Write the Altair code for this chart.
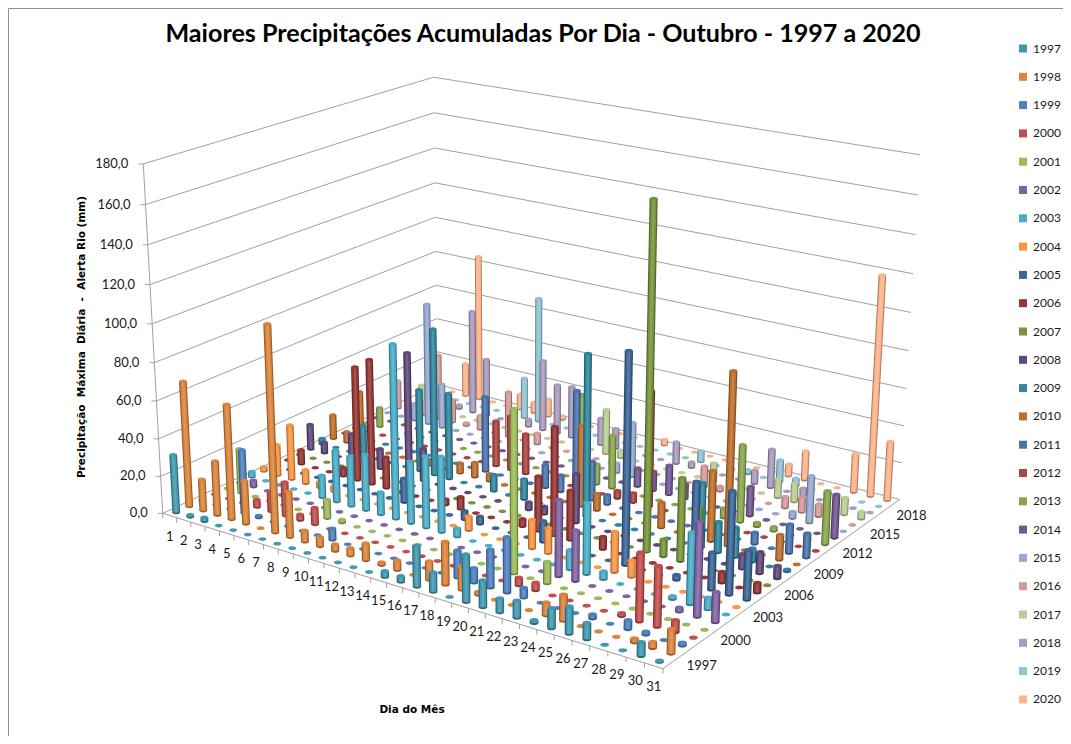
import numpy as np
import pandas as pd
import altair as alt

days = list(range(1, 32))
years = list(range(1997, 2021))
title_text = "Maiores Precipitações Acumuladas Por Dia - Outubro - 1997 a 2020"
y_title = "Precipitação\u00a0 Máxima\u00a0 Diária\u00a0 -\u00a0 Alerta Rio (mm)"
x_title = "Dia do Mês"
grid_values = [0, 20, 40, 60, 80, 100, 120, 140, 160, 180]
year_ticks = [1997, 2000, 2003, 2006, 2009, 2012, 2015, 2018]

colors = ["#4198AF", "#DB843D", "#5081BE", "#C0504D", "#9BBB59", "#8064A2", "#4BACC6", "#F79646",
          "#3D6596", "#953735", "#77933C", "#604A7B", "#31859C", "#BD6F2E", "#4A74AD", "#AA4643",
          "#89A54E", "#71588F", "#95A9D1", "#D49B9A", "#B9CD96", "#A99BBD", "#92C3D5", "#FBB58B"]

y1997 = [31, 1, 2, 0, 0, 0, 0, 0, 0, 0, 0, 0, 0, 0, 3, 3, 21, 10, 0, 24, 13.5, 7, 8.5, 1.5, 10, 13.5, 8, 0, 0, 6.7, 0.5]
y1998 = [67, 17, 29, 61, 23, 0, 108, 24, 6, 5, 3.5, 4, 9, 1.5, 5, 0, 9.5, 22, 12, 1.5, 0, 0, 0, 6.5, 13, 0, 0, 0, 2, 3, 12]
y1999 = [0, 0, 0, 34, 1, 0, 0, 0, 0, 6, 0, 0, 0, 0, 0, 0, 0, 14, 7.5, 19.5, 28, 5, 0, 0, 0, 2, 0, 4.5, 1.5, 0, 1.5]
y2000 = [0, 0, 0, 4, 10, 18, 3, 9, 0, 0, 0, 0, 0, 0, 0, 0, 0, 0, 0, 0, 4, 4, 0, 0, 0, 0, 1.5, 34, 30, 6, 0]
y2001 = [0, 24, 0, 0, 0, 0, 0, 10, 1.5, 0, 0, 0, 0, 0, 0, 0, 0, 0, 0, 83, 0, 11, 0, 0, 0, 0, 0, 0, 0, 0, 0]
y2002 = [0, 3.5, 0, 0, 0, 0, 0, 0, 0, 0, 0, 0, 0, 0, 0, 0, 0, 0, 0, 0, 0, 39, 26, 0, 0, 0, 0, 0, 2, 47, 15]
y2003 = [3, 0, 0, 0, 0, 12, 28, 27, 30, 12, 92, 33, 38, 40, 4.5, 0, 0, 0, 0, 0, 0, 10, 36.5, 4, 0, 0, 0, 1.5, 36, 6, 0]
y2004 = [2.5, 17, 30, 7.5, 3, 3, 0, 0, 0, 0, 0, 0, 0, 0, 7.5, 0, 0, 0, 15, 13, 0, 0, 0, 20.7, 8.6, 0, 0, 0, 0, 0, 0]
y2005 = [0, 0, 0, 0, 0, 0, 0, 0, 0, 13, 0, 0, 0, 4.5, 4, 0, 0, 0, 11, 0, 0, 0, 0, 108, 0, 0, 2.5, 52, 19, 52, 25]
y2006 = [0, 8, 0, 0, 4.5, 62, 68, 17, 0, 0, 0, 3, 6.5, 0, 0, 0, 4, 29, 57, 26, 0, 6.5, 0, 0, 0, 0, 0, 0, 5.5, 0, 5]
y2007 = [0, 0, 0, 0, 0, 0, 0, 0, 0, 0, 0, 0, 0, 0, 0, 0, 0, 0, 0, 0, 0, 0, 0, 176, 9, 43, 30, 0, 0, 0, 0]
y2008 = [14, 6, 0, 15, 0, 11, 0, 68, 17.5, 0, 0, 0, 0, 0, 0, 4, 4, 0, 26, 0, 0, 0, 0, 0, 0, 0, 0, 0, 7.5, 11, 6.5]
y2009 = [3, 0, 0, 17, 0, 0, 0, 45, 80, 47, 0, 0, 9, 0, 11, 0, 0, 0, 86, 0, 0, 0, 0, 0, 0, 34, 16, 15.5, 7, 0, 1]
y2010 = [13.5, 6, 31, 0, 0, 0, 0, 3, 0, 5.5, 8, 4, 0, 0, 0, 0, 0, 43, 9, 0, 0, 0, 13.5, 0, 0, 37, 90, 0, 0, 13, 0]
y2011 = [0, 0, 0, 0, 0, 0, 0, 0, 0, 0, 41.5, 0, 0, 0, 12.5, 9, 57, 21, 5, 0, 0, 0, 0, 0, 0, 0, 0, 6, 0, 15, 12.7]
y2012 = [0, 0, 0, 0, 0, 0, 0, 0, 0, 0, 25, 30, 22, 0, 0, 0, 0, 0, 4, 5, 62, 0, 0, 0, 0, 0, 0, 0, 0, 0, 0]
y2013 = [0, 11, 0, 0, 0, 0, 0, 0, 0, 0, 0, 0, 0, 0, 0, 47, 11, 29, 0, 0, 0, 0, 0, 0, 5, 41, 2, 2, 0, 0, 28]
y2014 = [0, 0, 0, 0, 0, 0, 0, 0, 0, 0, 0, 0, 0, 0, 0, 0, 0, 0, 10, 10.5, 16, 8, 0, 0, 0, 15.7, 0, 0, 0, 0, 23]
y2015 = [0, 0, 9.5, 69, 25, 0, 0, 0, 0, 0, 0, 0, 0, 0, 0, 0, 5, 30, 0, 0, 0, 0, 0, 0, 0, 0, 0, 3.5, 25, 0, 0]
y2016 = [16, 0, 8, 37, 13, 1.5, 8, 0, 25.6, 0, 6, 0, 0, 0, 0, 0, 0, 0, 0, 0, 0, 11.5, 2.5, 0, 0, 0, 6, 8, 6.5, 0, 0]
y2017 = [0, 12.6, 0, 0, 0, 0, 0, 0, 0, 0, 0, 0, 0, 0, 25, 4, 0, 0, 0, 0, 0, 10, 0, 0, 0, 10, 10, 0, 0, 9, 4]
y2018 = [0, 0, 0, 2, 59, 33, 0, 0, 4, 40, 28, 29, 0, 15, 11, 0, 0, 0, 12, 3, 0, 0, 0, 7, 21, 0, 4, 0, 0, 0, 0]
y2019 = [0, 0, 0, 0, 0, 0, 0, 23, 71, 0, 0, 0, 0, 0, 0, 0, 0, 0, 0, 6, 0, 0, 2, 0, 12, 4, 0, 0, 0, 0, 0]
y2020 = [0, 0, 19, 84, 0, 0, 8.7, 6, 10, 2, 0, 0, 0, 0, 0, 0, 3, 0, 0, 0, 0, 0, 0, 0, 6.5, 16, 0, 0, 21, 118, 32]

series = [y1997, y1998, y1999, y2000, y2001, y2002, y2003, y2004, y2005, y2006, y2007, y2008,
          y2009, y2010, y2011, y2012, y2013, y2014, y2015, y2016, y2017, y2018, y2019, y2020]

# camera of the 3-D box: where the box corners fall on the page
box_cube = [(0, 0, 0), (1, 0, 0), (1, 1, 0), (0, 1, 0), (0, 0, 1), (0, 1, 1), (1, 1, 1)]
box_page = [(163, 513), (663, 669), (900, 499), (437, 385), (143, 164), (434, 77), (920, 155)]
rows = []
for (a, b, c), (px, py) in zip(box_cube, box_page):
    rows.append([a, b, c, 1, 0, 0, 0, 0, -px * a, -px * b, -px * c, -px])
    rows.append([0, 0, 0, 0, a, b, c, 1, -py * a, -py * b, -py * c, -py])
P = np.linalg.svd(np.array(rows, float))[2][-1].reshape(3, 4)
P = P / P[2, 3]


def project(u, v, z):
    q = P @ np.array([u, v, z, 1.0])
    return q[0] / q[2], q[1] / q[2], q[2]


def mix(hexa, other, t):
    c = [int(hexa[i:i + 2], 16) for i in (1, 3, 5)]
    return "#" + "".join(f"{round(x + (other - x) * t):02x}" for x in c)


W, H = 1055, 728
xs = alt.Scale(domain=[8, 8 + W], nice=False, zero=False)
ys = alt.Scale(domain=[8 + H, 8], nice=False, zero=False)
X = lambda f="x": alt.X(f"{f}:Q", scale=xs, axis=None)
Y = lambda f="y": alt.Y(f"{f}:Q", scale=ys, axis=None)

# ---------------- bars
recs = []
for yi, (yr, vals) in enumerate(zip(years, series)):
    v = (yi + 0.5) / 24
    for d, val in zip(days, vals):
        u = (d - 0.5) / 31
        bx, by, bw = project(u, v, 0)
        tx, ty, _ = project(u, v, val / 180)
        w = 7.8 / bw
        recs.append(dict(year=str(yr), day=d, value=val, bx=bx, by=by, tx=tx, ty=ty,
                         w=w, w2=w * 0.72, w3=w * 0.3, s=w * w))
df = pd.DataFrame(recs)

ELL = "M-1,0A1,0.47 0 1,0 1,0A1,0.47 0 1,0 -1,0Z"
legend = alt.Legend(title=None, orient="none", legendX=1021 - 8 - 4, legendY=42.5 - 8, symbolType="square",
                    symbolSize=64, symbolStrokeWidth=0, symbolOpacity=1, labelFont="Lato", labelFontSize=12,
                    labelColor="#1a1a1a", rowPadding=16.3, labelOffset=4, columns=1, values=[str(y) for y in years])
color = alt.Color("year:N", scale=alt.Scale(domain=[str(y) for y in years], range=colors), legend=legend)

layers = []

# ---------------- walls and grid
grid = []
for g in grid_values:
    z = g / 180
    a, b, c = project(0, 0, z), project(0, 1, z), project(1, 1, z)
    grid.append(dict(x=a[0], y=a[1], x2=b[0], y2=b[1]))
    grid.append(dict(x=b[0], y=b[1], x2=c[0], y2=c[1]))
for p, q in [(project(0, 0, 0), project(1, 0, 0)), (project(1, 0, 0), project(1, 1, 0)), (project(0, 0, 0), project(0, 0, 1))]:
    grid.append(dict(x=p[0], y=p[1], x2=q[0], y2=q[1]))
for k in range(32):
    p = project(k / 31, 0, 0)
    grid.append(dict(x=p[0], y=p[1], x2=p[0], y2=p[1] + 5))
for g in grid_values:
    p = project(0, 0, g / 180)
    grid.append(dict(x=p[0] - 5, y=p[1], x2=p[0], y2=p[1]))
layers.append(alt.Chart(pd.DataFrame(grid)).mark_rule(color="#A0A0A0", strokeWidth=1).encode(
    x=X(), y=Y(), x2="x2:Q", y2="y2:Q"))

# ---------------- cylinders, back row first
for yi in range(23, -1, -1):
    yr = str(years[yi])
    c = colors[yi]
    sub = df[df.year == yr]
    tall = sub[sub.value > 0]
    if len(tall):
        layers.append(alt.Chart(tall).mark_point(shape=ELL, filled=True, opacity=1, color=mix(c, 0, 0.3)).encode(
            x=X("bx"), y=Y("by"), size=alt.Size("s:Q", scale=None)))
        for wf, col in [("w", mix(c, 0, 0.3)), ("w2", c), ("w3", mix(c, 255, 0.14))]:
            layers.append(alt.Chart(tall).mark_rule(color=col).encode(
                x=X("bx"), y=Y("by"), x2="tx:Q", y2="ty:Q", strokeWidth=alt.StrokeWidth(f"{wf}:Q", scale=None)))
    layers.append(alt.Chart(sub).mark_point(shape=ELL, filled=True, opacity=1).encode(
        x=X("tx"), y=Y("ty"), size=alt.Size("s:Q", scale=None), color=color))

# ---------------- axis labels
val_lab = [dict(x=project(0, 0, g / 180)[0], y=project(0, 0, g / 180)[1], t=f"{g},0") for g in grid_values]
day_lab = [dict(x=project((d - .5) / 31, 0, 0)[0], y=project((d - .5) / 31, 0, 0)[1], t=str(d)) for d in days]
yr_lab = [dict(x=project(1, (y - 1997 + .5) / 24, 0)[0], y=project(1, (y - 1997 + .5) / 24, 0)[1], t=str(y)) for y in year_ticks]
txt = dict(font="Lato", fontSize=13, color="#1a1a1a")
layers.append(alt.Chart(pd.DataFrame(val_lab)).mark_text(align="right", baseline="middle", dx=-15, **txt).encode(x=X(), y=Y(), text="t:N"))
layers.append(alt.Chart(pd.DataFrame(day_lab)).mark_text(align="center", baseline="middle", dy=21, **txt).encode(x=X(), y=Y(), text="t:N"))
layers.append(alt.Chart(pd.DataFrame(yr_lab)).mark_text(align="center", baseline="middle", dx=33, dy=1, **txt).encode(x=X(), y=Y(), text="t:N"))

layers.append(alt.Chart(pd.DataFrame([dict(x=543, y=34, t=title_text)])).mark_text(
    align="center", baseline="middle", font="Lato", fontWeight="bold", fontSize=25.1, color="#000000").encode(
    x=X(), y=Y(), text="t:N"))
small = pd.DataFrame([
    dict(x=412, y=710, t=x_title, angle=0),
    dict(x=82, y=337, t=y_title, angle=270),
])
layers.append(alt.Chart(small).mark_text(align="center", baseline="middle", font="DejaVu Sans", fontWeight="bold", fontSize=10.5, color="#000000").encode(
    x=X(), y=Y(), text="t:N", angle=alt.Angle("angle:Q", scale=None)))

# ---------------- picture frame
frame = pd.DataFrame([dict(x=8.5, y=8.5, x2=8.5, y2=736), dict(x=8.5, y=8.5, x2=1063, y2=8.5)])
layers.append(alt.Chart(frame).mark_rule(color="#8C8C8C", strokeWidth=1).encode(x=X(), y=Y(), x2="x2:Q", y2="y2:Q"))

chart = alt.layer(*layers).properties(
    width=W, height=H, padding=0, autosize=alt.AutoSizeParams(type="none"),
    background="white"
).configure_view(stroke=None, clip=False)
chart.save("out.html", embed_options={"renderer": "svg", "actions": False})
